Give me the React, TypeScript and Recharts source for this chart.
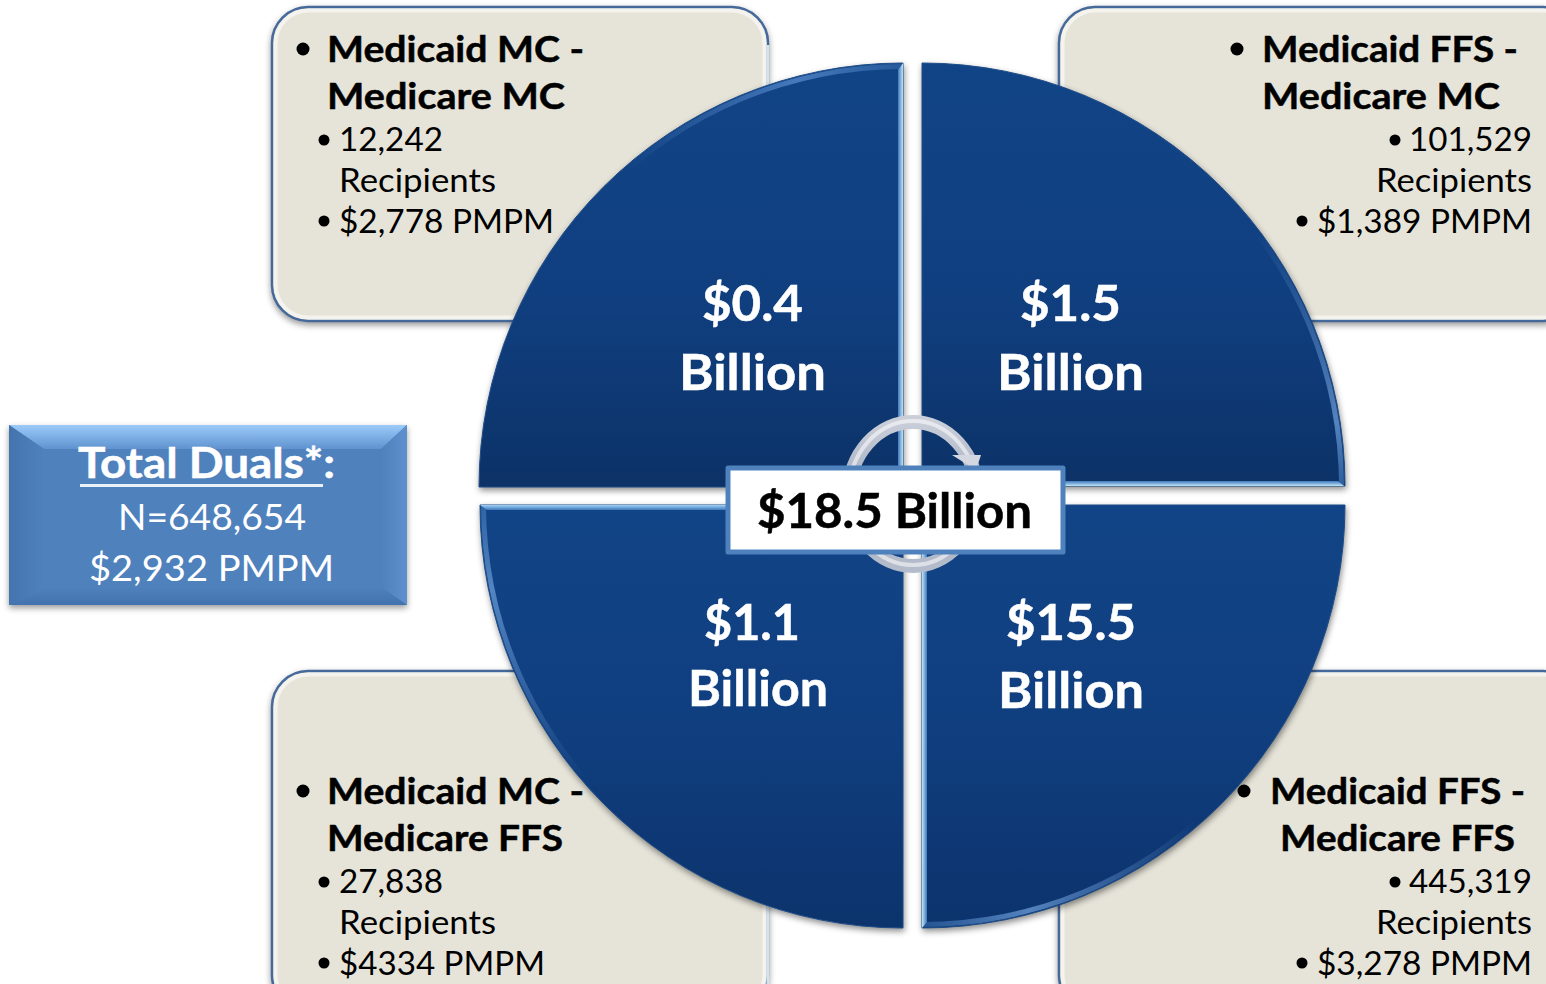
import React from "react";
import { PieChart, Pie, Cell } from "recharts";

// ---- data ----
const segments = ["Medicaid MC - Medicare MC", "Medicaid FFS - Medicare MC", "Medicaid MC - Medicare FFS", "Medicaid FFS - Medicare FFS"];
const billions = [0.4, 1.5, 1.1, 15.5];
const billionLabels = ["$0.4", "$1.5", "$1.1", "$15.5"];
const headFirst = ["Medicaid MC -", "Medicaid FFS -", "Medicaid MC -", "Medicaid FFS -"];
const headSecond = ["Medicare MC", "Medicare MC", "Medicare FFS", "Medicare FFS"];
const recipients = ["12,242", "101,529", "27,838", "445,319"];
const pmpm = ["$2,778 PMPM", "$1,389 PMPM", "$4334 PMPM", "$3,278 PMPM"];
const recipientsWord = "Recipients";
const billionWord = "Billion";
const totalTitle = "Total Duals*:";
const totalN = "N=648,654";
const totalPmpm = "$2,932 PMPM";
const centerLabel = "$18.5 Billion";

// ---- layout, kept apart from the data ----
const W = 1546;
const H = 984;
const FONT = "Lato, 'Open Sans', sans-serif";
const pieGeom = [
  { cx: 903, cy: 487, r: 424, start: 90, end: 180, bevel: "url(#bevelTL)" },
  { cx: 922, cy: 486, r: 423, start: 0, end: 90, bevel: "url(#bevelTR)" },
  { cx: 903, cy: 505, r: 423, start: 180, end: 270, bevel: "url(#bevelBL)" },
  { cx: 922, cy: 505, r: 423, start: 270, end: 360, bevel: "url(#bevelBR)" },
];
const boxes = [
  { x: 272, y: 7, w: 496, h: 314 },
  { x: 1059, y: 7, w: 520, h: 314 },
  { x: 272, y: 671, w: 496, h: 340 },
  { x: 1059, y: 671, w: 520, h: 340 },
];
const textGeom = [
  { dy: 0, hb: 303, h1: [328, 255], h2: [328, 236], rb: 324, r: [340, 102], w: [340, 155], pb: 324, p: [340, 213] },
  { dy: 0, hb: 1237, h1: [1263, 254], h2: [1263, 236], rb: 1395, r: [1410, 121], w: [1377, 154], pb: 1302, p: [1318, 213] },
  { dy: 742, hb: 303, h1: [328, 255], h2: [328, 234], rb: 324, r: [340, 102], w: [340, 155], pb: 324, p: [340, 204] },
  { dy: 742, hb: 1244, h1: [1271, 253], h2: [1281, 233], rb: 1395, r: [1410, 121], w: [1377, 154], pb: 1302, p: [1318, 213] },
];
const labelGeom = [
  { a: [703, 99, 321], b: [680, 145, 390] },
  { a: [1021, 99, 321], b: [998, 145, 390] },
  { a: [705, 94, 640], b: [689, 138, 706] },
  { a: [1007, 128, 640], b: [999, 144, 708] },
];

type TProps = { x: number; y: number; w: number; size: number; bold?: boolean; fill?: string; children: string };
const T = ({ x, y, w, size, bold, fill = "#000", children }: TProps) => (
  <text
    x={x - 1}
    y={y}
    textLength={w + 2}
    lengthAdjust="spacingAndGlyphs"
    fontFamily={FONT}
    fontSize={size}
    fontWeight={bold ? 700 : 400}
    fill={fill}
    stroke={bold ? fill : "none"}
    strokeWidth={bold ? 0.5 : 0}
  >
    {children}
  </text>
);

const layerStyle: React.CSSProperties = { position: "absolute", left: 0, top: 0 };

export default function App() {
  return (
    <div style={{ position: "fixed", left: 0, top: 0, width: W, height: H, background: "#fff", overflow: "hidden" }}>
      {/* back layer: the four grey boxes and the total box */}
      <svg width={W} height={H} style={layerStyle}>
        <defs>
          <linearGradient id="bevelTop" x1="0" y1="0" x2="0" y2="1">
            <stop offset="0" stopColor="#9ccbfa" />
            <stop offset="1" stopColor="#5f92cf" />
          </linearGradient>
          <linearGradient id="bevelLeft" x1="0" y1="0" x2="1" y2="0">
            <stop offset="0" stopColor="#4474ad" />
            <stop offset="1" stopColor="#4f81bd" />
          </linearGradient>
          <linearGradient id="bevelRight" x1="0" y1="0" x2="1" y2="0">
            <stop offset="0" stopColor="#4f81bd" />
            <stop offset="1" stopColor="#5d90cc" />
          </linearGradient>
          <linearGradient id="bevelBottom" x1="0" y1="0" x2="0" y2="1">
            <stop offset="0" stopColor="#4f81bd" />
            <stop offset="1" stopColor="#4273ae" />
          </linearGradient>
        </defs>
        {boxes.map((b, i) => (
          <g key={i}>
            <rect
              x={b.x}
              y={b.y}
              width={b.w}
              height={b.h}
              rx={36}
              fill="#e6e4d9"
              stroke="#44699a"
              strokeWidth={2.5}
              style={{ filter: "drop-shadow(0px 3px 3px rgba(0,0,0,0.4))" }}
            />
            <rect
              x={b.x + 3.5}
              y={b.y + 3.5}
              width={b.w - 7}
              height={b.h - 7}
              rx={33}
              fill="none"
              stroke="rgba(255,255,255,0.55)"
              strokeWidth={4}
            />
          </g>
        ))}
        <rect x={766.5} y={45} width={3} height={60} fill="#d4e2ea" />
        <rect x={766.5} y={900} width={3} height={84} fill="#d4e2ea" />
        <g style={{ filter: "drop-shadow(0px 3px 3px rgba(0,0,0,0.4))" }}>
          <rect x={9} y={425} width={398} height={180} fill="#4f81bd" />
          <polygon points="9,425 407,425 381,449 44,449" fill="url(#bevelTop)" />
          <polygon points="9,425 44,449 44,587 9,605" fill="url(#bevelLeft)" />
          <polygon points="407,425 381,449 381,587 407,605" fill="url(#bevelRight)" />
          <polygon points="9,605 44,587 381,587 407,605" fill="url(#bevelBottom)" />
        </g>
      </svg>

      {/* the pie: four equal quadrants, each pulled apart from the centre */}
      <div style={{ ...layerStyle, filter: "drop-shadow(1px 3px 3px rgba(0,0,0,0.45))" }}>
        <PieChart width={W} height={H} margin={{ top: 0, right: 0, bottom: 0, left: 0 }}>
          <defs>
            <linearGradient id="sliceTop" x1="0" y1="0" x2="0" y2="1">
              <stop offset="0" stopColor="#114486" />
              <stop offset="0.55" stopColor="#103f80" />
              <stop offset="1" stopColor="#0c3267" />
            </linearGradient>
            <linearGradient id="sliceBottom" x1="0" y1="0" x2="0" y2="1">
              <stop offset="0" stopColor="#114486" />
              <stop offset="0.5" stopColor="#103f80" />
              <stop offset="1" stopColor="#0c336c" />
            </linearGradient>
            <linearGradient id="bevelTL" x1="0" y1="0" x2="1" y2="0">
              <stop offset="0.35" stopColor="#5d90d2" stopOpacity="0" />
              <stop offset="0.75" stopColor="#5d90d2" stopOpacity="0.7" />
              <stop offset="1" stopColor="#2f62a3" stopOpacity="0.7" />
            </linearGradient>
            <linearGradient id="bevelTR" x1="0" y1="0" x2="0" y2="1">
              <stop offset="0.4" stopColor="#6b9cd8" stopOpacity="0" />
              <stop offset="0.85" stopColor="#6b9cd8" stopOpacity="0.75" />
              <stop offset="1" stopColor="#3d71b2" stopOpacity="0.7" />
            </linearGradient>
            <linearGradient id="bevelBL" x1="0" y1="0" x2="0" y2="1">
              <stop offset="0" stopColor="#3d71b2" stopOpacity="0.7" />
              <stop offset="0.2" stopColor="#6b9cd8" stopOpacity="0.75" />
              <stop offset="0.65" stopColor="#6b9cd8" stopOpacity="0" />
            </linearGradient>
            <linearGradient id="bevelBR" x1="0" y1="0" x2="1" y2="0">
              <stop offset="0" stopColor="#2f62a3" stopOpacity="0.7" />
              <stop offset="0.25" stopColor="#6b9cd8" stopOpacity="0.75" />
              <stop offset="0.65" stopColor="#6b9cd8" stopOpacity="0" />
            </linearGradient>
          </defs>
          {segments.map((name, i) => (
            <Pie
              key={name}
              data={[{ name, value: billions[i] }]}
              dataKey="value"
              nameKey="name"
              cx={pieGeom[i].cx}
              cy={pieGeom[i].cy}
              innerRadius={0}
              outerRadius={pieGeom[i].r}
              startAngle={pieGeom[i].start}
              endAngle={pieGeom[i].end}
              stroke="#1d4c88"
              strokeWidth={1}
              isAnimationActive={false}
            >
              <Cell fill={i < 2 ? "url(#sliceTop)" : "url(#sliceBottom)"} />
            </Pie>
          ))}
          {segments.map((name, i) => (
            <Pie
              key={name + " rim"}
              data={[{ name, value: billions[i] }]}
              dataKey="value"
              nameKey="name"
              cx={pieGeom[i].cx}
              cy={pieGeom[i].cy}
              innerRadius={pieGeom[i].r - 6}
              outerRadius={pieGeom[i].r - 1}
              startAngle={pieGeom[i].start}
              endAngle={pieGeom[i].end}
              stroke="none"
              isAnimationActive={false}
            >
              <Cell fill={pieGeom[i].bevel} />
            </Pie>
          ))}
        </PieChart>
      </div>

      {/* front layer: edges, ring, centre box and all text */}
      <svg width={W} height={H} style={layerStyle}>
        <defs>
          <linearGradient id="ring" x1="0" y1="0" x2="0" y2="1">
            <stop offset="0" stopColor="#c9ced9" />
            <stop offset="0.5" stopColor="#a3acbf" />
            <stop offset="1" stopColor="#b4bbca" />
          </linearGradient>
          <linearGradient id="edgeLightH" x1="0" y1="0" x2="1" y2="0">
            <stop offset="0" stopColor="#3f78bb" />
            <stop offset="1" stopColor="#bfe4f8" />
          </linearGradient>
          <linearGradient id="edgeLightHR" x1="0" y1="0" x2="1" y2="0">
            <stop offset="0" stopColor="#bfe4f8" />
            <stop offset="1" stopColor="#3f78bb" />
          </linearGradient>
          <linearGradient id="edgeLightV" x1="0" y1="0" x2="0" y2="1">
            <stop offset="0" stopColor="#3f78bb" />
            <stop offset="1" stopColor="#bfe4f8" />
          </linearGradient>
          <linearGradient id="edgeLightVR" x1="0" y1="0" x2="0" y2="1">
            <stop offset="0" stopColor="#9fd2f7" />
            <stop offset="1" stopColor="#3f78bb" />
          </linearGradient>
        </defs>
        {/* inner bevel highlights on the straight edges */}
        <polygon points="903,63 903,487 898,482 898,70" fill="url(#edgeLightH)" />
        <polygon points="922,486 1344,486 1338,481 926,481" fill="url(#edgeLightV)" />
        <polygon points="480,505 903,505 899,510 487,510" fill="url(#edgeLightVR)" />
        <polygon points="922,505 922,928 927,922 927,510" fill="url(#edgeLightHR)" />

        {/* ring arrow */}
        <ellipse cx={913} cy={494} rx={64} ry={72} fill="none" stroke="url(#ring)" strokeWidth={14} />
        <ellipse cx={913} cy={493} rx={64} ry={72} fill="none" stroke="rgba(255,255,255,0.55)" strokeWidth={4} />
        <polygon points="952,455 981,455 976,470" fill="#d3d7df" />

        {/* centre box */}
        <rect x={728} y={468} width={335} height={84} fill="#fff" stroke="#4f81bd" strokeWidth={5} strokeLinejoin="round" />
        <T x={758} y={528} w={273} size={48} bold>{centerLabel}</T>

        {/* quadrant values */}
        {billionLabels.map((v, i) => (
          <g key={v}>
            <T x={labelGeom[i].a[0]} y={labelGeom[i].a[2]} w={labelGeom[i].a[1]} size={50} bold fill="#fff">{v}</T>
            <T x={labelGeom[i].b[0]} y={labelGeom[i].b[2]} w={labelGeom[i].b[1]} size={50} bold fill="#fff">{billionWord}</T>
          </g>
        ))}

        {/* box texts */}
        {textGeom.map((g, i) => (
          <g key={i}>
            <circle cx={g.hb} cy={49 + g.dy} r={6.5} fill="#000" />
            <T x={g.h1[0]} y={62 + g.dy} w={g.h1[1]} size={37} bold>{headFirst[i]}</T>
            <T x={g.h2[0]} y={109 + g.dy} w={g.h2[1]} size={37} bold>{headSecond[i]}</T>
            <circle cx={g.rb} cy={140 + g.dy} r={5.5} fill="#000" />
            <T x={g.r[0]} y={151 + g.dy} w={g.r[1]} size={33}>{recipients[i]}</T>
            <T x={g.w[0]} y={192 + g.dy} w={g.w[1]} size={33}>{recipientsWord}</T>
            <circle cx={g.pb} cy={221 + g.dy} r={5.5} fill="#000" />
            <T x={g.p[0]} y={233 + g.dy} w={g.p[1]} size={33}>{pmpm[i]}</T>
          </g>
        ))}

        {/* total box */}
        <T x={79} y={478} w={255} size={42} bold fill="#fff">{totalTitle}</T>
        <rect x={80} y={484} width={243} height={3} fill="#e8f0f8" />
        <T x={119} y={530} w={186} size={37} fill="#fff">{totalN}</T>
        <T x={90} y={581} w={243} size={37} fill="#fff">{totalPmpm}</T>
      </svg>
    </div>
  );
}
